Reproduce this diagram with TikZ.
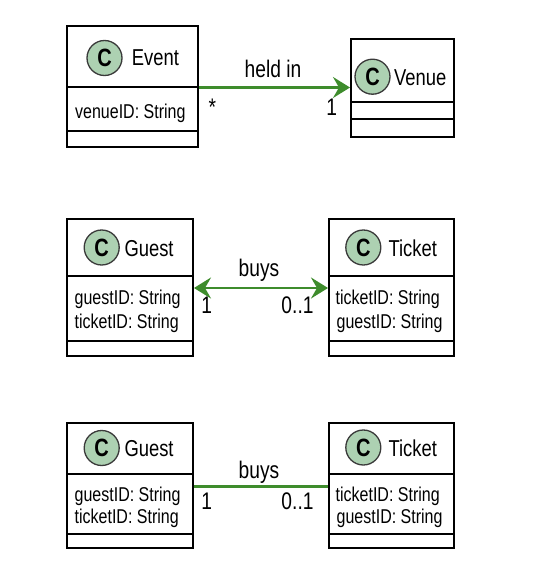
\documentclass[tikz,border=0pt]{standalone}
\usepackage{fontspec}
\setmainfont{Liberation Sans}[FakeStretch=0.8]
\usetikzlibrary{arrows.meta,calc}
\definecolor{edgegreen}{HTML}{3E8C2C}
\definecolor{circfill}{HTML}{ADD1B2}
\definecolor{circline}{HTML}{3A3A3A}
\tikzset{umltip/.tip={Stealth[length=17pt, width=21pt, inset=6pt]}}
\begin{document}
\begin{tikzpicture}[x=1pt,y=-1pt,
  classbox/.style={draw=black, line width=2pt, fill=white, inner sep=0pt, anchor=north west},
  sepline/.style={draw=black, line width=2pt},
  cbadge/.style={circle, fill=circfill, draw=circline, line width=1.3pt, minimum size=35pt, inner sep=0pt, font=\bfseries\fontsize{25}{25}\selectfont},
  nametext/.style={inner sep=0pt, anchor=base west, font=\fontsize{23}{26}\selectfont},
  attrtext/.style={inner sep=0pt, anchor=base west, font=\fontsize{20}{24}\selectfont},
  lbltext/.style={inner sep=0pt, anchor=base, font=\fontsize{24}{26}\selectfont},
  assoc/.style={draw=edgegreen, line width=2.3pt}
]
\fill[white] (0,0) rectangle (558,586);
\useasboundingbox (0,0) rectangle (558,586);

% ---------- Event / Venue ----------
\node[classbox, minimum width=131pt, minimum height=121pt] (event) at (66,25) {};
\draw[sepline] ([yshift=-62pt]event.north west) -- ([yshift=-62pt]event.north east);
\draw[sepline] ([yshift=-106pt]event.north west) -- ([yshift=-106pt]event.north east);
\node[cbadge] (eventC) at (104.5,58) {C};
\node[nametext] (eventN) at (131.7,66) {Event};
\node[attrtext] (eventA1) at (75,118) {venueID: String};

\node[classbox, minimum width=103pt, minimum height=97pt] (venue) at (350,38.5) {};
\draw[sepline] ([yshift=-63pt]venue.north west) -- ([yshift=-63pt]venue.north east);
\draw[sepline] ([yshift=-80pt]venue.north west) -- ([yshift=-80pt]venue.north east);
\node[cbadge] (venueC) at (372.5,76.7) {C};
\node[nametext] (venueN) at (394,85) {Venue};

\draw[assoc, -umltip] ([yshift=-1pt]event.east) -- ([yshift=-1pt]event.east -| venue.west);
\node[lbltext] (heldin) at (273,77.7) {held in};
\node[lbltext] (evmult) at (212.3,115) {*};
\node[lbltext] (vemult) at (331.7,115) {1};

% ---------- Guest / Ticket (navigable both ways) ----------
\node[classbox, minimum width=126pt, minimum height=137pt] (guestA) at (66,217.5) {};
\draw[sepline] ([yshift=-58.5pt]guestA.north west) -- ([yshift=-58.5pt]guestA.north east);
\draw[sepline] ([yshift=-123.5pt]guestA.north west) -- ([yshift=-123.5pt]guestA.north east);
\node[cbadge] (guestAC) at (101.7,247.5) {C};
\node[nametext] (guestAN) at (124.3,256) {Guest};
\node[attrtext] (guestAA1) at (74.5,304) {guestID: String};
\node[attrtext] (guestAA2) at (74.5,328) {ticketID: String};

\node[classbox, minimum width=125pt, minimum height=137pt] (ticketA) at (328,217.5) {};
\draw[sepline] ([yshift=-58.5pt]ticketA.north west) -- ([yshift=-58.5pt]ticketA.north east);
\draw[sepline] ([yshift=-123.5pt]ticketA.north west) -- ([yshift=-123.5pt]ticketA.north east);
\node[cbadge] (ticketAC) at (363.3,247.5) {C};
\node[nametext] (ticketAN) at (388.3,256) {Ticket};
\node[attrtext] (ticketAA1) at (335.5,304) {ticketID: String};
\node[attrtext] (ticketAA2) at (336.5,328) {guestID: String};

\draw[assoc, umltip-umltip] ([yshift=-1pt]guestA.east) -- ([yshift=-1pt]guestA.east -| ticketA.west);
\node[lbltext] (buysA) at (259,276.7) {buys};
\node[lbltext] (gmultA) at (206.7,313) {1};
\node[lbltext] (tmultA) at (297.5,313) {0..1};

% ---------- Guest / Ticket (plain association) ----------
\node[classbox, minimum width=126pt, minimum height=125.6pt] (guestB) at (66,421.7) {};
\draw[sepline] ([yshift=-52.3pt]guestB.north west) -- ([yshift=-52.3pt]guestB.north east);
\draw[sepline] ([yshift=-112.3pt]guestB.north west) -- ([yshift=-112.3pt]guestB.north east);
\node[cbadge] (guestBC) at (101.7,448) {C};
\node[nametext] (guestBN) at (124.3,456) {Guest};
\node[attrtext] (guestBA1) at (74.5,501.5) {guestID: String};
\node[attrtext] (guestBA2) at (74.5,523.3) {ticketID: String};

\node[classbox, minimum width=125pt, minimum height=125.6pt] (ticketB) at (328,421.7) {};
\draw[sepline] ([yshift=-52.3pt]ticketB.north west) -- ([yshift=-52.3pt]ticketB.north east);
\draw[sepline] ([yshift=-112.3pt]ticketB.north west) -- ([yshift=-112.3pt]ticketB.north east);
\node[cbadge] (ticketBC) at (363.3,447.5) {C};
\node[nametext] (ticketBN) at (388.3,456) {Ticket};
\node[attrtext] (ticketBA1) at (335.5,501.5) {ticketID: String};
\node[attrtext] (ticketBA2) at (336.5,523.3) {guestID: String};

\draw[assoc] ([yshift=-1pt]guestB.east) -- ([yshift=-1pt]guestB.east -| ticketB.west);
\node[lbltext] (buysB) at (259,478.3) {buys};
\node[lbltext] (gmultB) at (206.7,509) {1};
\node[lbltext] (tmultB) at (297.5,509) {0..1};
\end{tikzpicture}
\end{document}
